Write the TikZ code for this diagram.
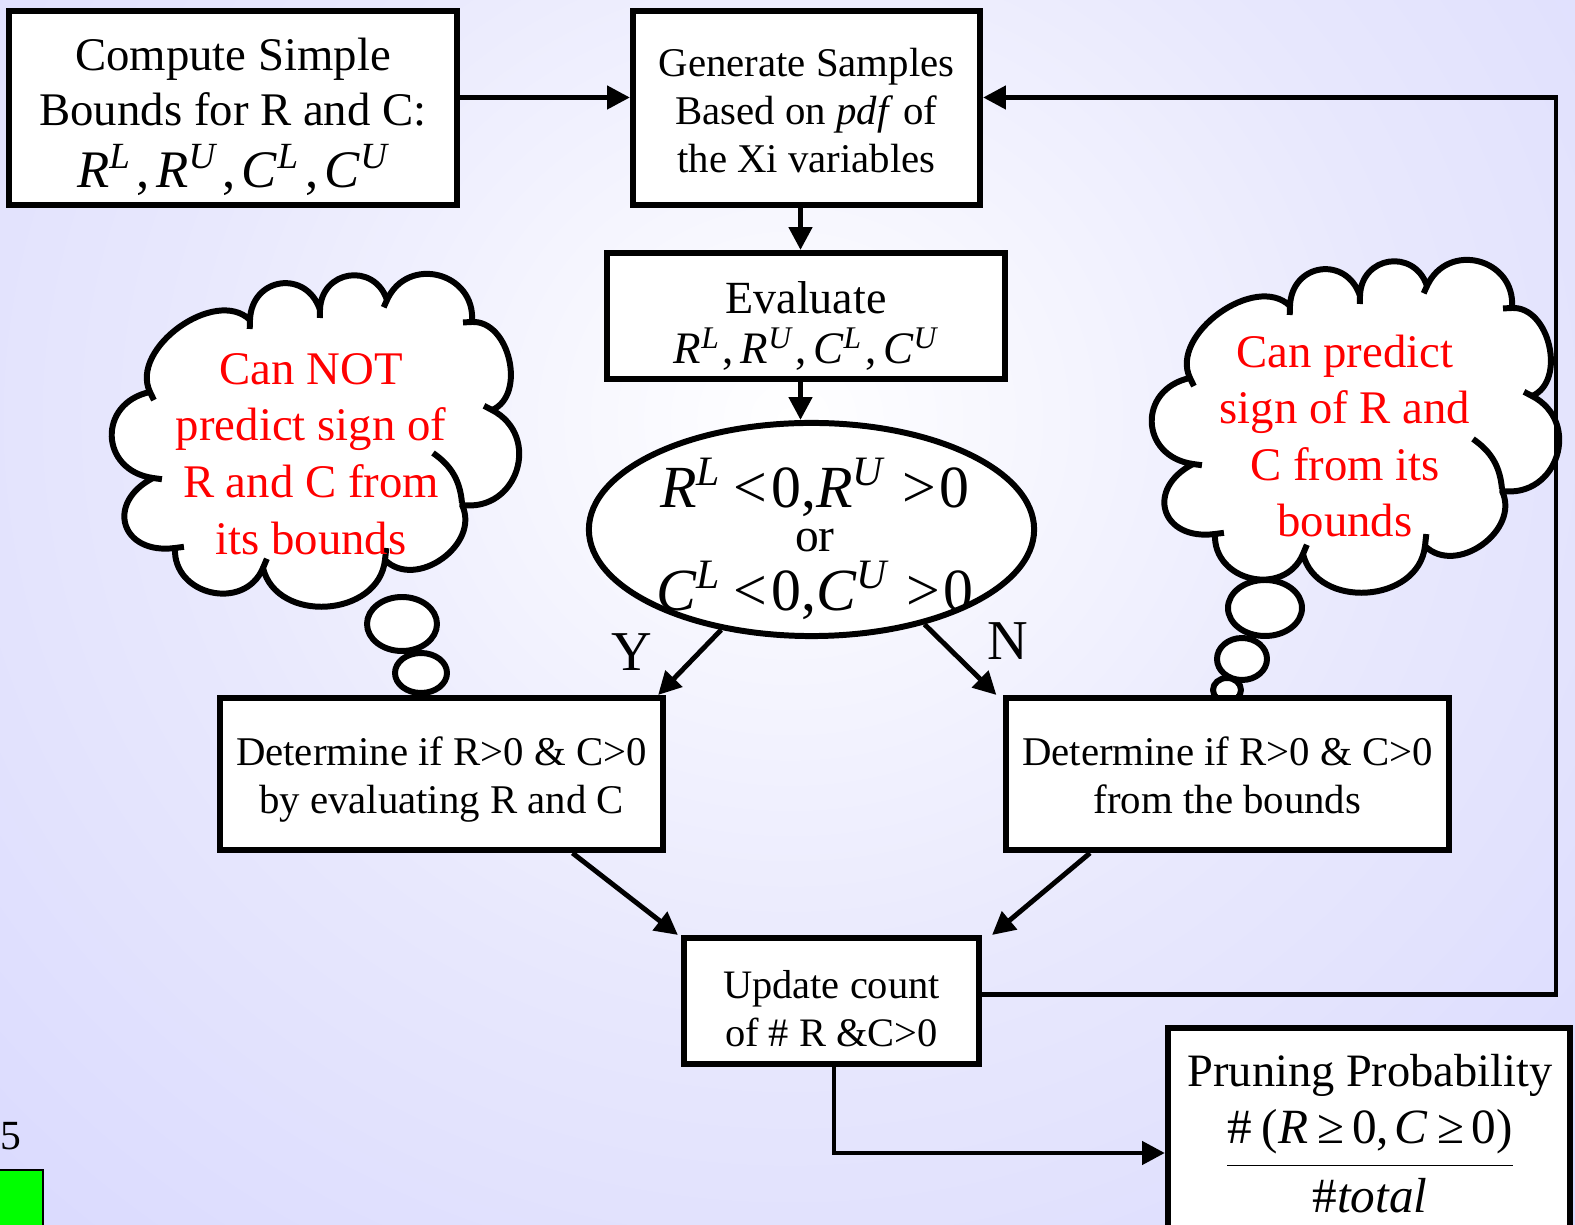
\documentclass[tikz,border=0pt]{standalone}
\usepackage{fontspec}
\setmainfont{Liberation Serif}
\usetikzlibrary{arrows.meta,shapes.geometric,calc}
\definecolor{bglav}{RGB}{204,204,255}
\definecolor{bgmid}{RGB}{232,232,253}
\definecolor{sqgreen}{RGB}{0,255,0}
\pgfdeclareradialshading{bgrad}{\pgfpoint{0bp}{0bp}}{color(0bp)=(white); color(18bp)=(bgmid); color(50bp)=(bglav)}
\newcommand\fs[2]{\fontsize{#1}{#2}\selectfont}
\newcommand\Sup[1]{\textsuperscript{\itshape #1}}
\newcommand\Vr[1]{\textit{#1}}
\newcommand\topstrut[1]{\rule{0pt}{#1}}
\newcommand\botstrut[1]{\rule[-#1]{0pt}{#1}}
\tikzset{
  box/.style={draw, line width=1.7pt, fill=white, align=center, inner sep=0pt},
  arr/.style={line width=1.4pt, -{Triangle[length=6.5pt,width=6.5pt]}},
  cloudline/.style={draw, line width=1.7pt, fill=white, line join=round},
  stub/.style={draw, line width=1.7pt},
  redtxt/.style={text=red, align=center, font=\fs{13.3}{16.1}},
  thought/.pic={
    \coordinate (v1) at (150,392); \coordinate (v2) at (250,320);
    \coordinate (v3) at (320,310); \coordinate (v4) at (387,300);
    \coordinate (v5) at (472,322); \coordinate (v6) at (492,410);
    \coordinate (v7) at (462,505); \coordinate (v8) at (385,560);
    \coordinate (v9) at (263,568); \coordinate (v10) at (175,548);
    \coordinate (v11) at (153,478);
    \path[cloudline] (v1) to[bend left=80,looseness=1.0] (v2)
      to[bend left=80,looseness=1.56] (v3)
      to[bend left=80,looseness=1.52] (v4)
      to[bend left=80,looseness=1.45] (v5)
      to[bend left=80,looseness=1.07] (v6)
      to[bend left=80,looseness=1.45] (v7)
      to[bend left=80,looseness=1.18] (v8)
      to[bend left=80,looseness=1.21] (v9)
      to[bend left=80,looseness=1.35] (v10)
      to[bend left=80,looseness=1.9] (v11)
      to[bend left=80,looseness=1.6] (v1) -- cycle;
    \draw[line width=1.7pt] (433,453) to[bend left=25] (462,503);
    \draw[stub] (v1) -- ($(v1)!0.09cm!-100:(v2)$);
    \draw[stub] (v2) -- ($(v2)!0.09cm!-100:(v3)$);
    \draw[stub] (v3) -- ($(v3)!0.08cm!-100:(v4)$);
    \draw[stub] (v4) -- ($(v4)!0.08cm!-100:(v5)$);
    \draw[stub] (v5) -- ($(v5)!0.09cm!-100:(v6)$);
    \draw[stub] (v6) -- ($(v6)!0.09cm!-100:(v7)$);
    \draw[stub] (v8) -- ($(v8)!0.12cm!-100:(v9)$);
    \draw[stub] (v9) -- ($(v9)!0.1cm!-100:(v10)$);
    \draw[stub] (v10) -- ($(v10)!0.09cm!-100:(v11)$);
    \draw[stub] (v11) -- ($(v11)!0.09cm!-100:(v1)$);
  }
}
\begin{document}
\begin{tikzpicture}[x=0.01cm,y=-0.01cm]
\clip (0,0) rectangle (1575,1225);
\fill[bglav] (0,0) rectangle (1575,1225);
\shade[shading=bgrad] (-60,-385) rectangle (1640,1225);

% thought clouds
\pic (lcloud) at (0,0) {thought};
\draw[cloudline] (402,624) ellipse [x radius=35, y radius=27];
\draw[cloudline] (421,673) ellipse [x radius=26, y radius=20];
\pic (rcloud) at (1040,-14) {thought};
\draw[cloudline] (1265,608) ellipse [x radius=37, y radius=28];
\draw[cloudline] (1242,659) ellipse [x radius=25, y radius=21];
\draw[cloudline] (1227,690) ellipse [x radius=14, y radius=12];
\node[redtxt] (lcloudtxt) at (311,454) {Can NOT\\predict sign of\\R and C from\\its bounds};
\node[redtxt] (rcloudtxt) at (1345,436) {Can predict\\sign of R and\\C from its\\bounds};

% boxes
\node[box, minimum width=4.48cm, minimum height=1.94cm, font=\fs{13.3}{15.6}] (bounds) at (233,108)
  {\topstrut{14.2pt}Compute Simple\\Bounds for R and C:\\[2pt]{\fs{15}{15.6}\Vr{R}\Sup{L}\kern0.1em,\kern0.12em\Vr{R}\Sup{U}\kern0.1em,\kern0.12em\Vr{C}\Sup{L}\kern0.1em,\kern0.12em\Vr{C}\Sup{U}}};
\node[box, minimum width=3.47cm, minimum height=1.94cm, font=\fs{11.6}{13.7}] (gen) at (806.5,108)
  {\topstrut{9.6pt}Generate Samples\\Based on \textit{pdf} of\\the Xi variables};
\node[box, minimum width=3.98cm, minimum height=1.26cm, font=\fs{13.1}{14.2}] (eval) at (806,316)
  {\topstrut{14.7pt}Evaluate\\{\fs{12.8}{14.2}\Vr{R}\Sup{L}\kern0.05em,\kern0.15em\Vr{R}\Sup{U}\kern0.05em,\kern0.15em\Vr{C}\Sup{L}\kern0.05em,\kern0.15em\Vr{C}\Sup{U}}};
\node[ellipse, draw, line width=1.7pt, fill=white, minimum width=4.45cm, minimum height=2.13cm, inner sep=0pt] (cond) at (811.5,529.5) {};
\node[align=center, font=\fs{17}{12.5}] (condtxt) at (815,539)
  {\Vr{R}\Sup{L}\kern0.2em<\kern0.06em0,\Vr{R}\Sup{U}\kern0.3em>\kern0.06em0\\{\fs{13.5}{12.5}or}\\[1.5pt]\Vr{C}\Sup{L}\kern0.2em<\kern0.06em0,\Vr{C}\Sup{U}\kern0.3em>\kern0.06em0};
\node[box, minimum width=4.43cm, minimum height=1.52cm, font=\fs{11.6}{13.7}] (evalrc) at (441.5,774)
  {\topstrut{12pt}Determine if R>0 \& C>0\\by evaluating R and C\botstrut{3pt}};
\node[box, minimum width=4.43cm, minimum height=1.52cm, font=\fs{11.6}{13.7}] (frombnd) at (1227.5,774)
  {\topstrut{12pt}Determine if R>0 \& C>0\\from the bounds\botstrut{3pt}};
\node[box, minimum width=2.95cm, minimum height=1.26cm, font=\fs{11.5}{13.7}] (update) at (831.5,1001)
  {\topstrut{12.4pt}Update count\\of \# R \&C>0};
\node[box, minimum width=4.02cm, minimum height=2.17cm] (prob) at (1369,1136.5) {};
\node[align=center, font=\fs{13.2}{16}] (probtxt) at (1370,1134)
  {Pruning Probability\\[2.7pt]{\fs{14}{16}$\displaystyle\frac{\mbox{\#\kern0.2em(\Vr{R}\kern0.2em≥\kern0.15em0,\kern0.1em\Vr{C}\kern0.2em≥\kern0.15em0)}}{\mbox{\#\Vr{total}}}$}};

% labels
\node[font=\fs{16}{18}] (ylab) at (632,652) {Y};
\node[font=\fs{16}{18}] (nlab) at (1008,641) {N};
\node[font=\fs{11.8}{14}] (pagenum) at (11,1136) {5};
\draw[fill=sqgreen, line width=0.7pt] (-5,1170) rectangle (43,1240);

% connectors
\draw[arr] ([shift={(0,-10.5)}]bounds.east) -- ([shift={(0,-10.5)}]gen.west);
\draw[arr] ([shift={(-6,0)}]gen.south) -- ([shift={(-5.5,0)}]eval.north);
\draw[arr] ([shift={(-5.5,0)}]eval.south) -- ([shift={(-11,0)}]cond.north);
\draw[arr] (cond.228) -- ([shift={(-8,0)}]evalrc.north east);
\draw[arr] (cond.320) -- ([shift={(-6.5,0)}]frombnd.north west);
\draw[arr] ([shift={(131,0)}]evalrc.south) -- ([shift={(-3,0)}]update.north west);
\draw[arr] ([shift={(-137.5,0)}]frombnd.south) -- ([shift={(10,0)}]update.north east);
\coordinate (loopx) at (1556,0);
\coordinate (updout) at ([shift={(0,-6.5)}]update.east);
\coordinate (genin) at ([shift={(0,-10.5)}]gen.east);
\draw[arr] (updout) -- (updout -| loopx) -- (genin -| loopx) -- (genin);
\coordinate (probin) at ([shift={(0,16.5)}]prob.west);
\draw[arr] ([shift={(2.5,0)}]update.south) |- (probin);
\end{tikzpicture}
\end{document}
